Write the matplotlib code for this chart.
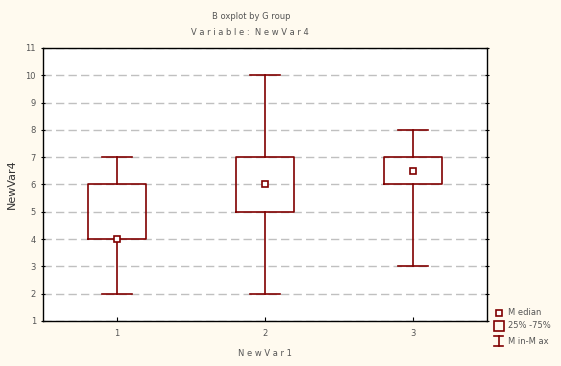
import matplotlib
matplotlib.use("Agg")
import matplotlib.pyplot as plt
from matplotlib.lines import Line2D
from matplotlib.patches import Rectangle

groups = ["1", "2", "3"]
mins = [2, 2, 3]
q1s = [4, 5, 6]
medians = [4, 6, 6.5]
q3s = [6, 7, 7]
maxs = [7, 10, 8]
yticks = list(range(1, 12))

BG = "#FFFAEF"
RED = "#800000"
TXT = "#555555"

fig = plt.figure(figsize=(5.61, 3.66), dpi=100, facecolor=BG)
ax = fig.add_axes([0.0766, 0.123, 0.7914, 0.746])
ax.set_facecolor("white")

stats = []
for g, lo, a, m, b, hi in zip(groups, mins, q1s, medians, q3s, maxs):
    stats.append(dict(label=g, whislo=lo, q1=a, med=m, q3=b, whishi=hi, fliers=[]))

pos = list(range(1, len(groups) + 1))
ax.bxp(stats, positions=pos, widths=0.39, showfliers=False,
       boxprops=dict(color=RED, linewidth=1.2),
       whiskerprops=dict(color=RED, linewidth=1.2),
       capprops=dict(color=RED, linewidth=1.2),
       medianprops=dict(linewidth=0),
       capwidths=0.2, zorder=3)
ax.plot(pos, medians, linestyle="none", marker="s", markersize=4.5,
        markerfacecolor="white", markeredgecolor=RED, markeredgewidth=1.2, zorder=4)

ax.set_xlim(0.5, 3.5)
ax.set_ylim(1, 11)
ax.set_yticks(yticks)
ax.set_yticklabels([str(t) for t in yticks])
ax.set_xticks(pos)
ax.set_xticklabels(groups)
ax.yaxis.grid(True, linestyle=(0, (6, 3)), color="#C0C0C0", linewidth=1)
ax.set_axisbelow(True)
ax.tick_params(axis="both", labelsize=6, labelcolor=TXT, length=3, width=0.8)
ax.tick_params(axis="y", right=True, direction="inout")
ax.tick_params(axis="x", direction="in", pad=6)
for s in ax.spines.values():
    s.set_linewidth(1.0)
    s.set_color("black")

ax.set_ylabel("NewVar4", fontsize=8, color="#333333", labelpad=6)
ax.set_xlabel("N e w V a r 1", fontsize=6, color=TXT, labelpad=8)

fig.text(0.448, 0.955, "B oxplot by G roup", ha="center", va="center", fontsize=6, color=TXT)
fig.text(0.445, 0.91, "V a r i a b l e :  N e w V a r 4", ha="center", va="center", fontsize=6, color=TXT)

# legend
lx = 0.889
tx = 0.905
fig.add_artist(Line2D([lx], [0.145], marker="s", markersize=4, markerfacecolor="white",
                      markeredgecolor=RED, markeredgewidth=1.2, transform=fig.transFigure))
fig.text(tx, 0.145, "M edian", fontsize=6, color=TXT, va="center")
fig.add_artist(Rectangle((lx - 0.009, 0.096), 0.018, 0.027, fill=False, edgecolor=RED,
                         linewidth=1.2, transform=fig.transFigure))
fig.text(tx, 0.11, "25% -75%", fontsize=6, color=TXT, va="center")
fig.add_artist(Line2D([lx, lx], [0.055, 0.082], color=RED, linewidth=1.2, transform=fig.transFigure))
fig.add_artist(Line2D([lx - 0.008, lx + 0.008], [0.082, 0.082], color=RED, linewidth=1.2, transform=fig.transFigure))
fig.add_artist(Line2D([lx - 0.008, lx + 0.008], [0.055, 0.055], color=RED, linewidth=1.2, transform=fig.transFigure))
fig.text(tx, 0.068, "M in-M ax", fontsize=6, color=TXT, va="center")

fig.savefig("out.png", dpi=100, facecolor=BG)
